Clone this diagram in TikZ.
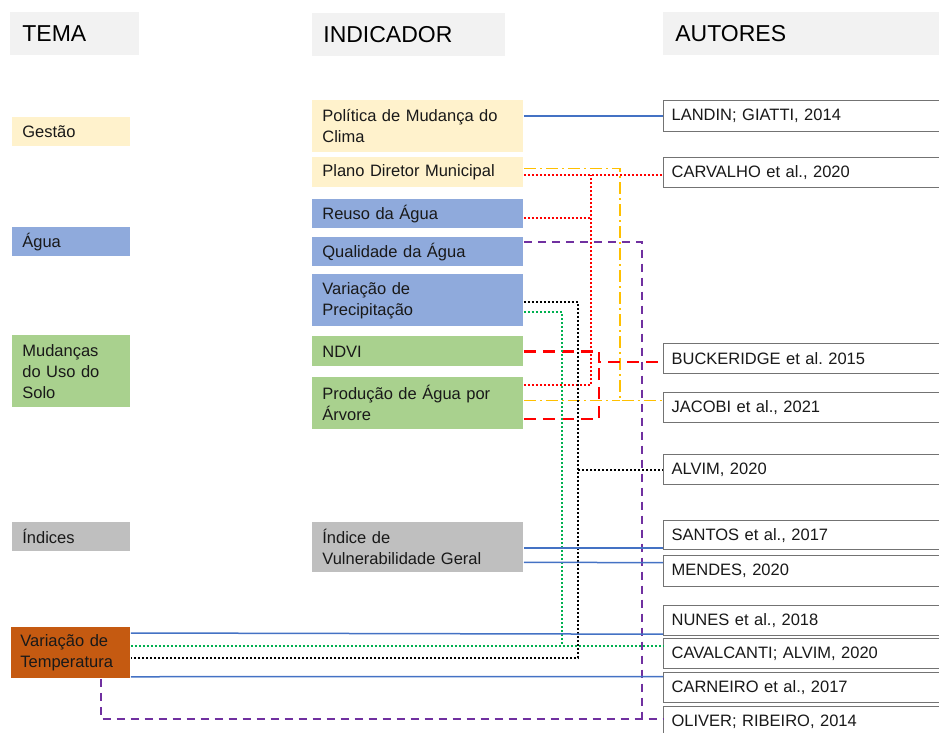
\documentclass[tikz,border=0pt]{standalone}
\usepackage{fontspec}
\setmainfont{Liberation Sans}
\usetikzlibrary{calc}
\frenchspacing

\definecolor{gestao}{HTML}{FFF2CC}
\definecolor{agua}{HTML}{8FAADC}
\definecolor{solo}{HTML}{A9D18E}
\definecolor{indices}{HTML}{BFBFBF}
\definecolor{temperatura}{HTML}{C55A11}
\definecolor{cabec}{HTML}{F2F2F2}
\definecolor{linhaazul}{HTML}{4472C4}
\definecolor{linhavermelha}{HTML}{FF0000}
\definecolor{linhaamarela}{HTML}{FFC000}
\definecolor{linharoxa}{HTML}{7030A0}
\definecolor{linhaverde}{HTML}{00B050}

\tikzset{every picture/.style={line width=0.75pt}}

\begin{document}
\begin{tikzpicture}[x=1pt,y=1pt,yscale=-1,
  caixa/.style={anchor=north west, inner ysep=2pt, align=left, text=black!90,
    font=\fontsize{16.5}{21}\selectfont},
  cabecalho/.style={anchor=north west, fill=cabec, minimum height=43pt, inner xsep=12pt,
    align=left, font=\fontsize{23}{27}\selectfont},
  tema/.style={caixa, text width=98pt, inner xsep=10pt},
  indicador/.style={caixa, text width=191pt, inner xsep=10pt},
  autor/.style={caixa, draw=black!55, line width=1.2pt, fill=white, text width=274pt,
    inner xsep=8pt, minimum height=30pt},
  azul/.style={draw=linhaazul, line width=1.5pt},
  vermelhopont/.style={draw=linhavermelha, line width=2pt, dash pattern=on 2pt off 2pt},
  vermelhotrac/.style={draw=linhavermelha, line width=2.5pt, dash pattern=on 12pt off 7pt},
  amarelo/.style={draw=linhaamarela, line width=1.5pt, dash pattern=on 12pt off 4pt on 2pt off 4pt},
  roxo/.style={draw=linharoxa, line width=1.8pt, dash pattern=on 8pt off 6pt},
  preto/.style={draw=black, line width=2pt, dash pattern=on 2pt off 2pt},
  verde/.style={draw=linhaverde, line width=2pt, dash pattern=on 2pt off 2pt}]
\useasboundingbox (0,0) rectangle (939,733);

% Header
\node[cabecalho, text width=105pt] (htema) at (10,12) {TEMA};
\node[cabecalho, text width=171pt, inner xsep=11pt] (hindicador) at (312,13) {INDICADOR};
\node[cabecalho, text width=266pt] (hautores) at (663,12) {AUTORES};

% Tema
\node[tema, fill=gestao, minimum height=29pt] (gestao) at (12,117) {Gestão};
\node[tema, fill=agua, minimum height=29pt] (agua) at (12,227) {Água};
\node[tema, fill=solo, minimum height=72pt] (solo) at (12,335) {Mudanças\\do Uso do\\Solo};
\node[tema, fill=indices, minimum height=29pt] (indices) at (12,522) {Índices};
\node[tema, fill=temperatura, minimum height=51pt, inner xsep=9pt, text width=101pt] (temp) at (11,627) {Variação de\\Temperatura};

% Indicador
\node[indicador, fill=gestao, minimum height=52pt] (pol) at (312,100) {Política de Mudança do\\Clima};
\node[indicador, fill=gestao, minimum height=30pt] (plano) at (312,157) {Plano Diretor Municipal};
\node[indicador, fill=agua, minimum height=29pt] (reuso) at (312,199) {Reuso da Água};
\node[indicador, fill=agua, minimum height=29pt] (qual) at (312,237) {Qualidade da Água};
\node[indicador, fill=agua, minimum height=52pt] (prec) at (312,274) {Variação de\\Precipitação};
\node[indicador, fill=solo, minimum height=30pt] (ndvi) at (312,336) {NDVI};
\node[indicador, fill=solo, minimum height=52pt] (prod) at (312,377) {Produção de Água por\\Árvore};
\node[indicador, fill=indices, minimum height=50pt] (indice) at (312,522) {Índice de\\Vulnerabilidade Geral};

% Autores
\node[autor, minimum height=31pt] (landin) at (663,100) {LANDIN; GIATTI, 2014};
\node[autor] (carvalho) at (663,157) {CARVALHO et al., 2020};
\node[autor] (buck) at (663,343) {BUCKERIDGE et al. 2015};
\node[autor] (jacobi) at (663,392) {JACOBI et al., 2021};
\node[autor] (alvim) at (663,454) {ALVIM, 2020};
\node[autor, minimum height=29pt] (santos) at (663,520) {SANTOS et al., 2017};
\node[autor, minimum height=31pt] (mendes) at (663,555) {MENDES, 2020};
\node[autor] (nunes) at (663,605) {NUNES et al., 2018};
\node[autor] (caval) at (663,638) {CAVALCANTI; ALVIM, 2020};
\node[autor] (carneiro) at (663,672) {CARNEIRO et al., 2017};
\node[autor] (oliver) at (663,706) {OLIVER; RIBEIRO, 2014};

% junctions
\coordinate (jver) at (591,174.5);
\coordinate (jvtr) at (599,362);
\coordinate (jama) at (620,400.5);
\coordinate (jrox) at (642,719);
\coordinate (jpre) at (578,658);
\coordinate (jvde) at (562,646);

% Connection
\draw[azul] (pol.east |- landin.west) -- (landin.west);
% Connection
\draw[amarelo] ($(plano.east)+(0,-4)$) -| (jama) -- (jama -| jacobi.west);
\draw[amarelo] (prod.east |- jama) -- (jama);
% Connection
\draw[vermelhopont] (plano.east |- jver) -- (carvalho.west |- jver);
\draw[vermelhopont] ($(reuso.east)+(0,4.5)$) coordinate (r1) -- (r1 -| jver);
\draw[vermelhopont] ($(prod.north east)+(0,8)$) coordinate (p1) -- (p1 -| jver) -- (jver);
% Connection
\draw[vermelhotrac] (ndvi.east) -| (jvtr) -- (jvtr -| buck.west);
\draw[vermelhotrac] ($(prod.south east)+(0,-11)$) -| (jvtr);
% Connection
\draw[roxo] ($(qual.east)+(0,-10)$) -| (jrox) -- (jrox -| oliver.west);
\draw[roxo] ($(temp.south)+(30,0)$) |- (jrox);
% Connection
\draw[preto] ($(prec.east)+(0,2)$) -| (jpre) -- (jpre -| temp.east);
\draw[preto] (alvim.west -| jpre) -- (alvim.west);
% Connection
\draw[verde] ($(prec.east)+(0,12)$) -| (jvde);
\draw[verde] (temp.east |- jvde) -- (caval.west |- jvde);
% Connection
\draw[azul] ($(indice.east)+(0,0.5)$) coordinate (s1) -- (s1 -| santos.west);
\draw[azul] ($(indice.east)+(0,15)$) -- ($(mendes.west)+(0,-8.5)$);
\draw[azul] ($(temp.north east)+(0,6)$) -- ($(nunes.south west)+(0,-2)$);
\draw[azul] ($(temp.south east)+(0,-2)$) -- ($(carneiro.west)+(0,-11)$);

\end{tikzpicture}
\end{document}
